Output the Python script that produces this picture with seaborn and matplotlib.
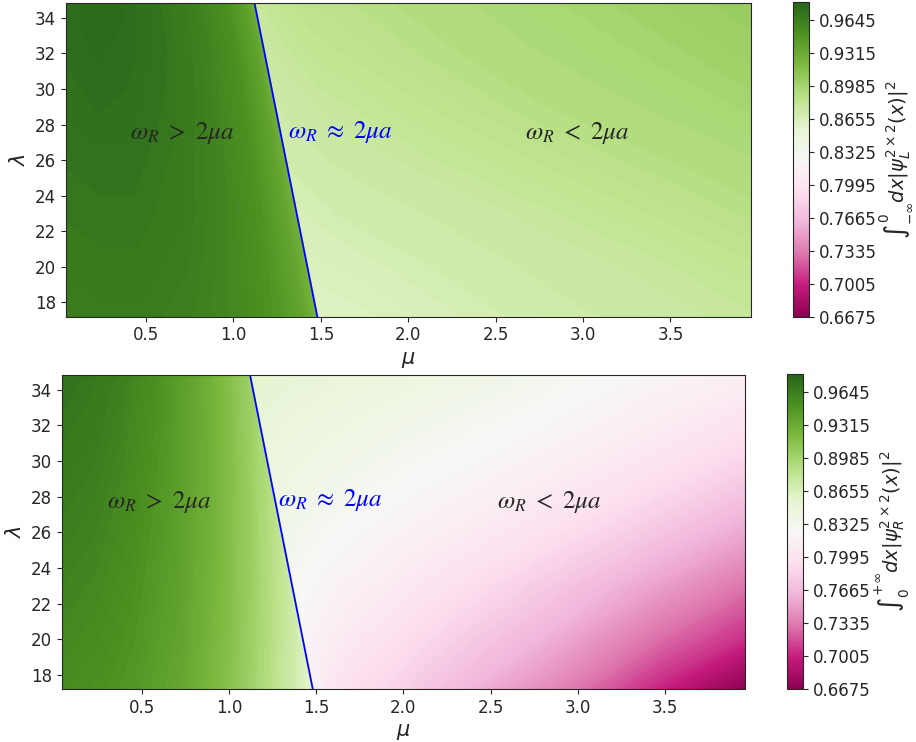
import numpy as np
import matplotlib
matplotlib.use("Agg")
import matplotlib.pyplot as plt
import seaborn as sns

sns.set_style("ticks")

# axis ranges of the (mu, lambda) scan
mu_range = [0.04, 3.96]
lam_range = [17.2, 34.85]

# boundary line omega_R = 2 mu a
line_mu = [1.12, 1.48]
line_lam = [34.85, 17.2]

# lambda rows where values were read
lam_nodes = [17.2, 20, 23, 26, 29, 32, 34.85]
# fractional position between left edge and boundary line
t_left = [0, 0.15, 0.3, 0.5, 0.7, 0.85, 0.95, 1.0]
# fractional position between boundary line and right edge
t_right = [0, 0.03, 0.1, 0.3, 0.55, 0.8, 1.0]

# top panel: integral of |psi_L|^2 over x<0
left_L = [
    [0.965, 0.966, 0.966, 0.963, 0.957, 0.947, 0.935, 0.924],
    [0.967, 0.968, 0.968, 0.965, 0.958, 0.948, 0.936, 0.925],
    [0.969, 0.970, 0.970, 0.967, 0.959, 0.949, 0.937, 0.926],
    [0.971, 0.972, 0.972, 0.968, 0.960, 0.950, 0.938, 0.927],
    [0.973, 0.975, 0.974, 0.970, 0.961, 0.951, 0.939, 0.928],
    [0.975, 0.977, 0.976, 0.971, 0.962, 0.952, 0.940, 0.929],
    [0.976, 0.978, 0.977, 0.971, 0.962, 0.952, 0.940, 0.929],
]
right_L = [
    [0.861, 0.862, 0.863, 0.867, 0.872, 0.876, 0.879],
    [0.864, 0.865, 0.866, 0.870, 0.875, 0.879, 0.883],
    [0.867, 0.868, 0.870, 0.874, 0.879, 0.884, 0.888],
    [0.870, 0.871, 0.874, 0.879, 0.884, 0.889, 0.893],
    [0.873, 0.875, 0.878, 0.883, 0.889, 0.894, 0.898],
    [0.876, 0.878, 0.882, 0.887, 0.893, 0.898, 0.902],
    [0.878, 0.881, 0.885, 0.890, 0.896, 0.901, 0.905],
]

# bottom panel: integral of |psi_R|^2 over x>0
left_R = [
    [0.955, 0.952, 0.946, 0.933, 0.910, 0.885, 0.866, 0.856],
    [0.958, 0.955, 0.949, 0.937, 0.915, 0.892, 0.874, 0.864],
    [0.961, 0.958, 0.952, 0.940, 0.920, 0.899, 0.882, 0.873],
    [0.964, 0.961, 0.955, 0.943, 0.925, 0.905, 0.889, 0.881],
    [0.967, 0.964, 0.958, 0.946, 0.929, 0.911, 0.896, 0.889],
    [0.970, 0.967, 0.961, 0.949, 0.933, 0.916, 0.902, 0.896],
    [0.973, 0.970, 0.964, 0.952, 0.936, 0.920, 0.908, 0.902],
]
right_R = [
    [0.815, 0.805, 0.793, 0.770, 0.740, 0.702, 0.6675],
    [0.822, 0.815, 0.805, 0.785, 0.760, 0.728, 0.705],
    [0.830, 0.825, 0.817, 0.800, 0.778, 0.752, 0.730],
    [0.838, 0.834, 0.828, 0.814, 0.797, 0.775, 0.755],
    [0.845, 0.842, 0.837, 0.826, 0.812, 0.795, 0.778],
    [0.851, 0.849, 0.845, 0.836, 0.825, 0.810, 0.797],
    [0.857, 0.855, 0.852, 0.845, 0.835, 0.822, 0.812],
]

cb_ticks = [0.6675, 0.7005, 0.7335, 0.7665, 0.7995, 0.8325, 0.8655, 0.8985, 0.9315, 0.9645]
vmin, vmax = 0.6675, 0.9826
levels = np.linspace(vmin, vmax, 160)
cmap = sns.color_palette("PiYG", as_cmap=True)


def region_grid(t_nodes, side):
    lam = np.array(lam_nodes)
    edge = np.interp(lam, line_lam[::-1], line_mu[::-1])
    t = np.array(t_nodes)
    if side == "left":
        X = mu_range[0] + t[None, :] * (edge[:, None] - mu_range[0])
    else:
        X = edge[:, None] + t[None, :] * (mu_range[1] - edge[:, None])
    Y = np.repeat(lam[:, None], len(t), axis=1)
    return X, Y


def draw_panel(ax, cax, left_vals, right_vals, cb_label, pos_gt, pos_ap, pos_lt):
    for t_nodes, vals, side in [(t_left, left_vals, "left"), (t_right, right_vals, "right")]:
        X, Y = region_grid(t_nodes, side)
        ax.contourf(X, Y, np.array(vals), levels=levels, cmap=cmap,
                    vmin=vmin, vmax=vmax, extend="both", antialiased=False)
    ax.plot(line_mu, line_lam, color="blue", lw=1.3)
    ax.set_xlim(mu_range)
    ax.set_ylim(lam_range)
    ax.set_xticks([0.5, 1.0, 1.5, 2.0, 2.5, 3.0, 3.5])
    ax.set_yticks([18, 20, 22, 24, 26, 28, 30, 32, 34])
    ax.tick_params(labelsize=12)
    ax.set_xlabel(r"$\mu$", fontsize=15)
    ax.set_ylabel(r"$\lambda$", fontsize=15)
    ax.text(*pos_gt, r"$\omega_R\ >\ 2\mu a$", fontsize=18, ha="center", va="center", math_fontfamily="stix")
    ax.text(*pos_ap, r"$\omega_R\ \approx\ 2\mu a$", fontsize=18, ha="center", va="center",
            color="blue", math_fontfamily="stix")
    ax.text(*pos_lt, r"$\omega_R\ <\ 2\mu a$", fontsize=18, ha="center", va="center", math_fontfamily="stix")
    sm = plt.cm.ScalarMappable(cmap=cmap, norm=plt.Normalize(vmin, vmax))
    cb = plt.colorbar(sm, cax=cax, ticks=cb_ticks)
    cb.ax.tick_params(labelsize=12)
    cb.set_label(cb_label, fontsize=14, labelpad=1)


fig = plt.figure(figsize=(9.16, 7.42), dpi=100)
ax1 = fig.add_axes([0.0717, 0.5732, 0.748, 0.4232])
cax1 = fig.add_axes([0.8657, 0.5728, 0.0175, 0.4245])
ax2 = fig.add_axes([0.0674, 0.0714, 0.746, 0.4236])
cax2 = fig.add_axes([0.8592, 0.0714, 0.0175, 0.4245])

draw_panel(ax1, cax1, left_L, right_L, r"$\int_{-\infty}^{0}dx|\psi_L^{2\times2}(x)|^2$",
           (0.71, 27.5), (1.61, 27.6), (2.97, 27.5))
draw_panel(ax2, cax2, left_R, right_R, r"$\int_{0}^{+\infty}dx|\psi_R^{2\times2}(x)|^2$",
           (0.60, 27.7), (1.58, 27.8), (2.84, 27.7))

fig.savefig("out.png", dpi=100)
